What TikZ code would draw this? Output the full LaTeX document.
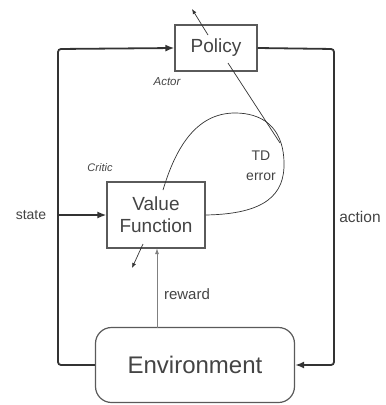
\documentclass[tikz,border=0pt]{standalone}
\usepackage{fontspec}
\setmainfont{Liberation Sans}
\usetikzlibrary{arrows.meta,calc}
\definecolor{linec}{HTML}{333333}
\definecolor{boxc}{HTML}{5A5A5A}
\definecolor{txtc}{HTML}{444444}
\tikzset{
  boxnode/.style={draw=boxc,line width=1.2pt,fill=white,text=txtc,inner sep=0pt,align=center},
  loopline/.style={draw=linec,line width=1.8pt,rounded corners=3pt},
  thinline/.style={draw=linec,line width=0.7pt},
  bigtip/.style={-{Latex[length=9pt,width=7pt]}},
  smalltip/.style={-{Latex[length=5pt,width=4pt]}},
  lbl/.style={text=txtc,inner sep=0pt},
}
\begin{document}
\begin{tikzpicture}[x=1pt,y=-1pt]
\useasboundingbox (0,0) rectangle (386,405);
% nodes
\node[boxnode,minimum width=82pt,minimum height=46pt,font=\fontsize{19}{22}\selectfont] (policy) at (216,48) {Policy};
\node[boxnode,minimum width=98pt,minimum height=66pt,font=\fontsize{19}{22}\selectfont] (vf) at (156,215) {Value\\Function};
\node[boxnode,minimum width=199pt,minimum height=75pt,rounded corners=16pt,font=\fontsize{24}{28}\selectfont] (env) at (195,365) {Environment};
% labels
\node[lbl,font=\itshape\fontsize{11.5}{13}\selectfont] (actor) at (167,82) {Actor};
\node[lbl,font=\itshape\fontsize{11}{13}\selectfont] (critic) at (100,168) {Critic};
\node[lbl,font=\fontsize{14}{20}\selectfont,align=center] (td) at (261,166) {TD\\error};
\node[lbl,font=\fontsize{14}{16}\selectfont] (state) at (31,215) {state};
\node[lbl,font=\fontsize{15.5}{18}\selectfont] (action) at (360,217) {action};
\node[lbl,font=\fontsize{15}{18}\selectfont] (reward) at (187,294) {reward};
% coordinates
\coordinate (cl) at (58,215);
\coordinate (rewtop) at (157,248);
\coordinate (rewbot) at (157,328);
\coordinate (tdtop) at (235,113);
\coordinate (tdright) at (284,162);
\coordinate (tdend) at (163,190);
\coordinate (pstart) at (228,63);
\coordinate (pend) at (280,143);
\coordinate (ua) at (208,35);
\coordinate (ub) at (192,9);
\coordinate (da) at (143,244);
\coordinate (db) at (132,268);
% main loop
\draw[loopline,bigtip] (env.west) -- (58,365) -- (58,49) -- (policy.west);
\draw[loopline,bigtip] (policy.east) -- (334,49) -- (334,365) -- (env.east);
\draw[draw=linec,line width=1.6pt,bigtip] (cl) -- (vf.west);
% reward
\draw[draw=gray,line width=1pt,-{Latex[length=6pt,width=4pt]}] (rewbot) -- (rewtop);
% TD error loop
\draw[thinline] (vf.east) .. controls (265,214) and (285,195) .. (tdright)
  .. controls (283,125) and (260,113) .. (tdtop)
  .. controls (195,113) and (175,150) .. (tdend);
\draw[thinline] (pstart) -- (pend);
% small arrows
\draw[thinline,smalltip] (ua) -- (ub);
\draw[thinline,smalltip] (da) -- (db);
\end{tikzpicture}
\end{document}
